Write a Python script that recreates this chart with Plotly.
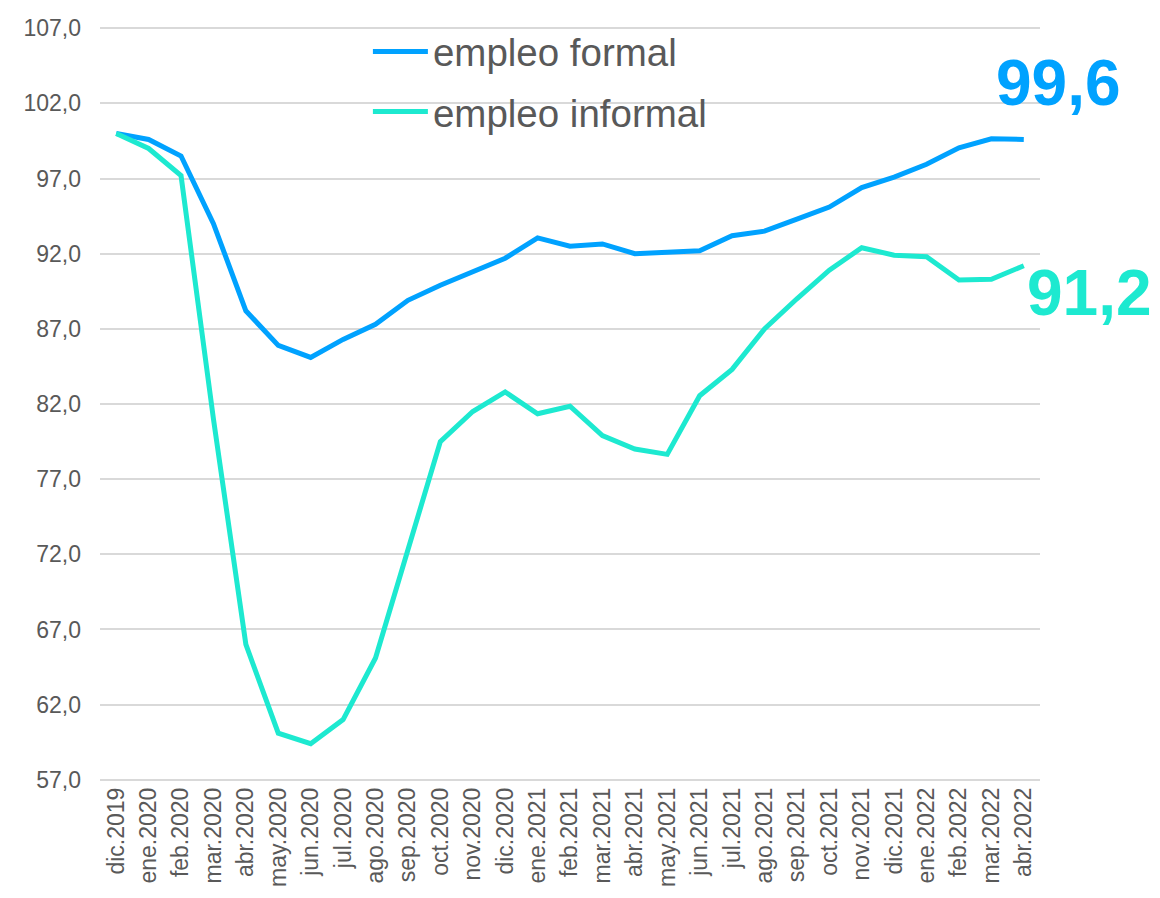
import plotly.graph_objects as go

months = [
    "dic.2019", "ene.2020", "feb.2020", "mar.2020", "abr.2020", "may.2020",
    "jun.2020", "jul.2020", "ago.2020", "sep.2020", "oct.2020", "nov.2020",
    "dic.2020", "ene.2021", "feb.2021", "mar.2021", "abr.2021", "may.2021",
    "jun.2021", "jul.2021", "ago.2021", "sep.2021", "oct.2021", "nov.2021",
    "dic.2021", "ene.2022", "feb.2022", "mar.2022", "abr.2022",
]
formal = [
    100.0, 99.6, 98.5, 94.0, 88.2, 85.9, 85.1, 86.3, 87.3, 88.9, 89.9, 90.8,
    91.7, 93.05, 92.5, 92.65, 92.0, 92.1, 92.2, 93.2, 93.5, 94.3, 95.1, 96.4,
    97.1, 97.95, 99.05, 99.65, 99.6,
]
informal = [
    100.0, 99.0, 97.2, 81.0, 66.0, 60.1, 59.4, 61.0, 65.1, 72.4, 79.5, 81.5,
    82.8, 81.35, 81.85, 79.9, 79.0, 78.65, 82.55, 84.3, 87.0, 89.0, 90.9, 92.4,
    91.9, 91.8, 90.25, 90.3, 91.2,
]

BLUE = "#00a2ff"
TEAL = "#1de9d0"
GREY = "#595959"
FONT = "Liberation Sans, Arial, sans-serif"

fig = go.Figure()
fig.add_trace(go.Scatter(
    x=months, y=formal, mode="lines", name="empleo formal",
    line=dict(color=BLUE, width=5), legendgroup="a",
))
fig.add_trace(go.Scatter(
    x=months, y=informal, mode="lines", name="empleo informal",
    line=dict(color=TEAL, width=5), legendgroup="b",
))

# end-of-series value labels
fig.add_annotation(
    x=months[-1], y=formal[-1], text="<b>99,6</b>", showarrow=False,
    font=dict(family=FONT, size=64, color=BLUE),
    xanchor="center", yanchor="middle", xshift=35, yshift=56,
)
fig.add_annotation(
    x=months[-1], y=informal[-1], text="<b>91,2</b>", showarrow=False,
    font=dict(family=FONT, size=64, color=TEAL),
    xanchor="left", yanchor="middle", xshift=1, yshift=-27,
)

# page body adds an 8px offset, so margins are trimmed by 8 on top/left
fig.update_layout(
    width=1160, height=898,
    plot_bgcolor="white", paper_bgcolor="white",
    separators=", ",
    margin=dict(l=92, r=128, t=14, b=124),
    font=dict(family=FONT, color=GREY),
    legend=dict(
        x=0.285, y=1.008, xanchor="left", yanchor="top",
        font=dict(size=38.5, color=GREY), itemwidth=55,
        tracegroupgap=7, bgcolor="rgba(0,0,0,0)",
    ),
    xaxis=dict(
        type="category", range=[-0.5, len(months) - 0.5],
        tickangle=-90, tickfont=dict(size=23, color=GREY),
        showgrid=False, showline=False, ticks="", automargin=False,
    ),
    yaxis=dict(
        range=[56.85, 107.15], tick0=57, dtick=5, tickformat=".1f",
        tickfont=dict(size=23, color=GREY),
        gridcolor="#d9d9d9", gridwidth=1.5, zeroline=False,
        showline=False, ticks="", ticklabelstandoff=18, automargin=False,
    ),
)

fig.write_html("out.html")
